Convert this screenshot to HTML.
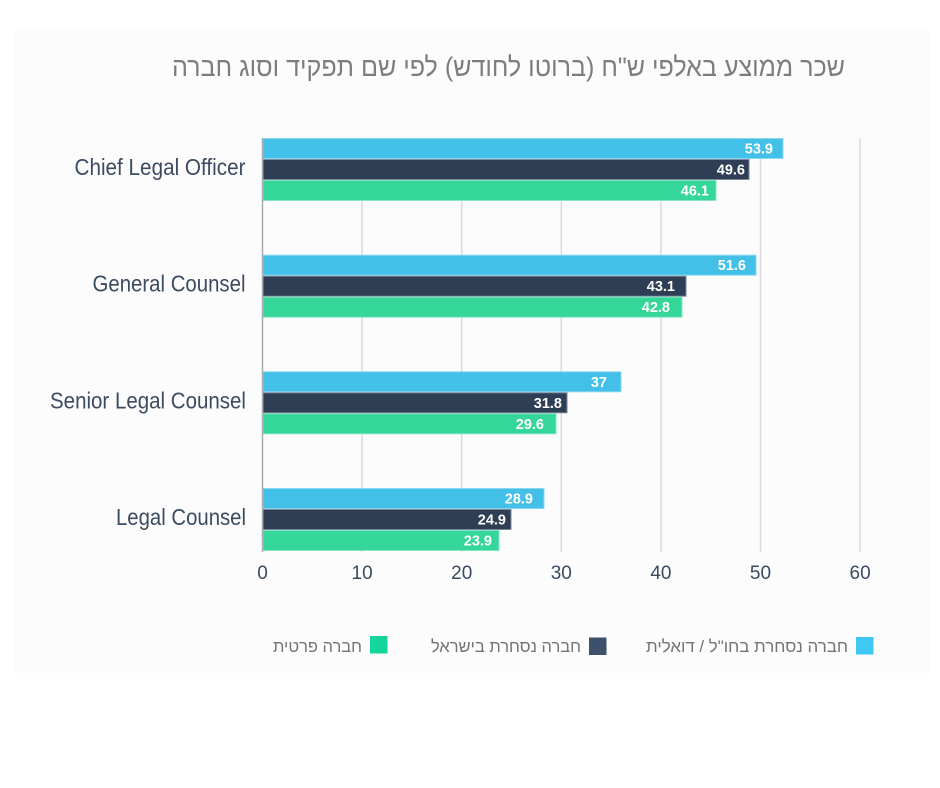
<!DOCTYPE html>
<html>
<head>
<meta charset="utf-8">
<style>
  html, body { margin: 0; padding: 0; background: #ffffff; }
  body { width: 940px; height: 788px; overflow: hidden; }
  svg { display: block; }
  .cat { font-family: "Liberation Sans", "DejaVu Sans", sans-serif; font-size: 23px; fill: #3b4b61; }
  .tick { font-family: "Liberation Sans", "DejaVu Sans", sans-serif; font-size: 19px; fill: #3b4b61; text-anchor: middle; }
  .val { font-family: "Liberation Sans", "DejaVu Sans", sans-serif; font-size: 14.5px; font-weight: bold; fill: #ffffff; text-anchor: end; }
  .heb { font-family: "Liberation Sans", "DejaVu Sans", sans-serif; direction: rtl; unicode-bidi: embed; text-anchor: middle; }
</style>
</head>
<body>
<svg width="940" height="788" viewBox="0 0 940 788" xmlns="http://www.w3.org/2000/svg">
  <rect x="0" y="0" width="940" height="788" fill="#ffffff"/>
  <rect x="14" y="30" width="916" height="643" fill="#fcfcfc"/>

  <!-- Title -->
  <text class="heb" x="508.5" y="76" font-size="27" fill="#7d7d7d" textLength="673" lengthAdjust="spacingAndGlyphs">שכר ממוצע באלפי ש"ח (ברוטו לחודש) לפי שם תפקיד וסוג חברה</text>

  <!-- Gridlines -->
  <g stroke="#d9dbdf" stroke-width="1.5">
    <line x1="362.1" y1="138" x2="362.1" y2="552"/>
    <line x1="461.7" y1="138" x2="461.7" y2="552"/>
    <line x1="561.3" y1="138" x2="561.3" y2="552"/>
    <line x1="660.9" y1="138" x2="660.9" y2="552"/>
    <line x1="760.5" y1="138" x2="760.5" y2="552"/>
    <line x1="860.1" y1="138" x2="860.1" y2="552"/>
  </g>

  <!-- Bars -->
  <g stroke-width="1">
    <rect x="263" y="138.5" width="520" height="20" fill="#43c0e8" stroke="#8ad7f0"/>
    <rect x="263" y="159.5" width="486" height="20" fill="#2d3e55" stroke="#7b8899"/>
    <rect x="263" y="180.5" width="453" height="20" fill="#35d699" stroke="#84e6c1"/>

    <rect x="263" y="255.2" width="493" height="20" fill="#43c0e8" stroke="#8ad7f0"/>
    <rect x="263" y="276.2" width="423" height="20" fill="#2d3e55" stroke="#7b8899"/>
    <rect x="263" y="297.2" width="419" height="20" fill="#35d699" stroke="#84e6c1"/>

    <rect x="263" y="371.8" width="358" height="20" fill="#43c0e8" stroke="#8ad7f0"/>
    <rect x="263" y="392.8" width="304" height="20" fill="#2d3e55" stroke="#7b8899"/>
    <rect x="263" y="413.8" width="293" height="20" fill="#35d699" stroke="#84e6c1"/>

    <rect x="263" y="488.5" width="281" height="20" fill="#43c0e8" stroke="#8ad7f0"/>
    <rect x="263" y="509.5" width="248" height="20" fill="#2d3e55" stroke="#7b8899"/>
    <rect x="263" y="530.5" width="236" height="20" fill="#35d699" stroke="#84e6c1"/>
  </g>

  <!-- Axis line -->
  <line x1="262.5" y1="138" x2="262.5" y2="552" stroke="#a3abb5" stroke-width="1.5"/>

  <!-- Value labels -->
  <text class="val" x="773" y="153.5">53.9</text>
  <text class="val" x="745" y="174.5">49.6</text>
  <text class="val" x="709" y="195.5">46.1</text>

  <text class="val" x="746" y="270.2">51.6</text>
  <text class="val" x="675" y="291.2">43.1</text>
  <text class="val" x="670" y="312.2">42.8</text>

  <text class="val" x="607" y="386.8">37</text>
  <text class="val" x="562" y="407.8">31.8</text>
  <text class="val" x="544" y="428.8">29.6</text>

  <text class="val" x="533" y="503.5">28.9</text>
  <text class="val" x="506" y="524.5">24.9</text>
  <text class="val" x="492" y="545.5">23.9</text>

  <!-- Category labels -->
  <text class="cat" x="245.5" y="175" text-anchor="end" textLength="171" lengthAdjust="spacingAndGlyphs">Chief Legal Officer</text>
  <text class="cat" x="245.5" y="291.7" text-anchor="end" textLength="153" lengthAdjust="spacingAndGlyphs">General Counsel</text>
  <text class="cat" x="246" y="408.4" text-anchor="end" textLength="196" lengthAdjust="spacingAndGlyphs">Senior Legal Counsel</text>
  <text class="cat" x="246" y="525" text-anchor="end" textLength="130" lengthAdjust="spacingAndGlyphs">Legal Counsel</text>

  <!-- Tick labels -->
  <text class="tick" x="262.5" y="579">0</text>
  <text class="tick" x="362.1" y="579">10</text>
  <text class="tick" x="461.7" y="579">20</text>
  <text class="tick" x="561.3" y="579">30</text>
  <text class="tick" x="660.9" y="579">40</text>
  <text class="tick" x="760.5" y="579">50</text>
  <text class="tick" x="860.1" y="579">60</text>

  <!-- Legend -->
  <rect x="856" y="637" width="17.5" height="17.5" fill="#40c8f4"/>
  <text class="heb" x="747" y="652" font-size="17" fill="#737373" textLength="202" lengthAdjust="spacingAndGlyphs">חברה נסחרת בחו"ל / דואלית</text>

  <rect x="589" y="637.5" width="17.5" height="17.5" fill="#3d516c"/>
  <text class="heb" x="506" y="652" font-size="17" fill="#737373" textLength="150" lengthAdjust="spacingAndGlyphs">חברה נסחרת בישראל</text>

  <rect x="370" y="636" width="17.5" height="17.5" fill="#14d59c"/>
  <text class="heb" x="317.5" y="652" font-size="17" fill="#737373" textLength="89" lengthAdjust="spacingAndGlyphs">חברה פרטית</text>
</svg>
</body>
</html>
